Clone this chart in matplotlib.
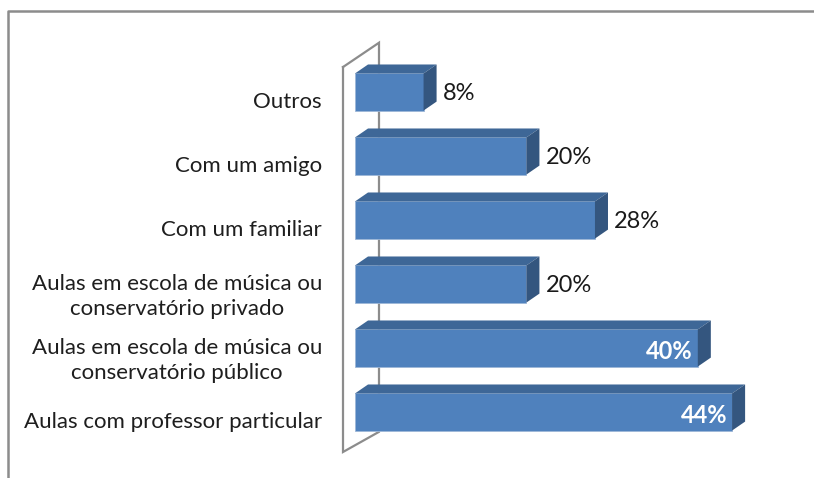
import matplotlib
matplotlib.use("Agg")
import matplotlib.pyplot as plt
from matplotlib.patches import Polygon
from matplotlib.lines import Line2D
from matplotlib.transforms import ScaledTranslation
import numpy as np

# data, bottom to top as drawn
categories = [
    "Aulas com professor particular",
    "Aulas em escola de música ou\nconservatório público",
    "Aulas em escola de música ou\nconservatório privado",
    "Com um familiar",
    "Com um amigo",
    "Outros",
]
values = [44, 40, 20, 28, 20, 8]
inside_label = [True, True, False, False, False, False]

front_col = "#4F81BD"
top_col = "#3E6797"
side_col = "#34567F"
wall_col = "#8C8C8C"

plt.rcParams["font.family"] = ["Lato", "DejaVu Sans"]

fig = plt.figure(figsize=(8.14, 4.78), dpi=100)
ax = fig.add_axes([340 / 814, 0, 1 - 340 / 814, 1])

px_per_unit = 8.57
ax.set_xlim(-15 / px_per_unit, (814 - 355) / px_per_unit)
ax.set_ylim(-66 / 64, (478 - 66) / 64)

bar_h = 0.58
dx, dy = 1.52, 0.14
y = np.arange(len(categories))

# back wall (drawn behind the bars)
wx0, wx1 = -1.4, 2.8
wall = [(wx0, 5.39), (wx0, -0.625), (wx1, -0.31), (wx1, 5.77), (wx0, 5.39)]
ax.plot([p[0] for p in wall], [p[1] for p in wall], color=wall_col, lw=1.6,
        zorder=1, clip_on=False, solid_joinstyle="miter")

ax.barh(y, values, height=bar_h, color=front_col, edgecolor="#9DB7D8",
        linewidth=0.6, zorder=3)

for yi, v in zip(y, values):
    top = yi + bar_h / 2
    bot = yi - bar_h / 2
    ax.add_patch(Polygon([(0, top), (v, top), (v + dx, top + dy), (dx, top + dy)],
                         closed=True, facecolor=top_col, edgecolor="none", zorder=3))
    ax.add_patch(Polygon([(v, bot), (v + dx, bot + dy), (v + dx, top + dy), (v, top)],
                         closed=True, facecolor=side_col, edgecolor="none", zorder=3))

for yi, v, inside in zip(y, values, inside_label):
    if inside:
        ax.text(v - 0.6, yi - 0.05, f"{v}%", ha="right", va="center", color="white",
                fontsize=17, fontweight="bold", zorder=4)
    else:
        ax.text(v + dx + 0.7, yi - 0.03, f"{v}%", ha="left", va="center", color="#1A1A1A",
                fontsize=17, zorder=4)

ax.set_yticks(y)
ax.set_yticklabels(categories, fontsize=16, color="#1E1E1E", multialignment="center",
                   linespacing=1.3)
ax.tick_params(axis="y", length=0, pad=13)
shift = ScaledTranslation(0, -8 / 100, fig.dpi_scale_trans)
for lbl in ax.get_yticklabels():
    lbl.set_transform(lbl.get_transform() + shift)
ax.set_xticks([])
for s in ax.spines.values():
    s.set_visible(False)
ax.patch.set_alpha(0)

# chart area border (top and left edges visible)
fig.add_artist(Line2D([7.5 / 814, 7.5 / 814, 1], [0, 1 - 10.5 / 478, 1 - 10.5 / 478],
                      transform=fig.transFigure, color="#8C8C8C", lw=1.8))

fig.savefig("out.png", dpi=100)
